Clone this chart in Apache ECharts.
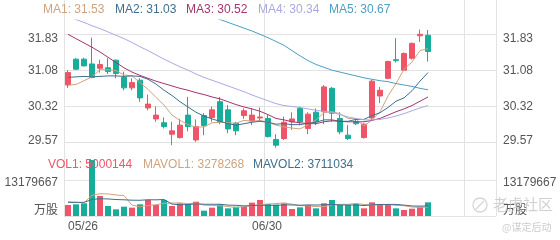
<!DOCTYPE html>
<html><head><meta charset="utf-8">
<script src="https://cdn.jsdelivr.net/npm/echarts@6/dist/echarts.min.js"></script>
<style>html,body{margin:0;padding:0;background:#fff}#c{width:560px;height:240px}</style>
</head><body><div id="c"></div>
<script>
// ---------- data ----------
const dates = ['05/26','05/27','05/30','05/31','06/01','06/02','06/03','06/06','06/07','06/08','06/13','06/14','06/15','06/16','06/17','06/20','06/21','06/22','06/23','06/24','06/27','06/28','06/29','06/30','07/01','07/04','07/05','07/06','07/07','07/08','07/11','07/12','07/13','07/14','07/15','07/18','07/19','07/20','07/21','07/22','07/25','07/26','07/27','07/28','07/29','08/01','08/02','08/03','08/04','08/05','08/08','08/09','08/10','08/11'];
const dateLabels = ['05/26', '06/30'];
// [open, close, low, high]
const candles = [
 [30.77,31.03,30.71,31.08],[31.31,31.10,31.08,31.33],[31.31,31.17,31.16,31.34],[31.21,30.93,30.91,31.76],
 [31.12,31.20,31.03,31.30],[31.13,31.05,31.00,31.33],[31.29,31.01,30.91,31.30],[30.93,30.71,30.66,31.05],
 [30.71,30.82,30.66,30.91],[30.87,30.50,30.42,30.91],[30.29,30.37,30.24,30.57],[30.06,30.14,30.00,30.32],
 [29.98,29.90,29.86,30.09],[29.74,29.81,29.51,30.00],[29.67,29.93,29.65,30.06],[30.14,29.90,29.80,30.52],
 [29.62,29.90,29.58,30.05],[30.13,29.92,29.72,30.18],[30.09,30.25,30.00,30.32],[30.42,30.00,29.95,30.52],
 [30.25,29.85,29.76,30.35],[29.97,29.81,29.72,30.00],[30.13,30.23,30.06,30.28],[30.02,30.14,29.93,30.28],
 [30.08,30.10,30.00,30.30],[30.07,29.69,29.67,30.14],[29.63,29.51,29.46,29.74],[29.65,29.99,29.62,30.11],
 [30.00,30.06,29.83,30.20],[30.28,30.00,29.93,30.32],[29.86,30.16,29.74,30.20],[30.20,30.00,29.93,30.28],
 [30.21,30.73,29.95,30.77],[30.70,30.18,30.00,30.73],[30.07,29.79,29.74,30.20],[29.72,29.65,29.62,29.93],
 [30.00,29.96,29.93,30.07],[29.67,29.95,29.65,29.97],[30.08,30.85,30.02,30.88],[30.54,30.66,30.39,30.73],
 [30.91,31.26,30.89,31.28],[31.30,31.28,31.24,31.75],[31.08,31.43,31.06,31.45],[31.33,31.64,31.30,31.66],
 [31.80,31.83,31.67,31.93],[31.81,31.47,31.26,31.92]
];
const ma1 = [30.77,30.78,30.86,30.94,31.09,31.09,31.07,30.98,30.96,30.82,30.68,30.51,30.35,30.14,30.03,29.94,29.89,29.89,29.98,29.99,29.98,29.97,30.03,30.01,30.03,29.99,29.93,29.89,29.87,29.85,29.94,30.04,30.19,30.21,30.17,30.07,30.06,29.91,30.04,30.21,30.54,30.80,31.10,31.25,31.49,31.53];
const ma2 = [30.93,30.94,30.95,30.94,30.95,30.96,30.96,30.95,30.96,30.95,30.89,30.79,30.66,30.55,30.42,30.31,30.20,30.12,30.06,30.01,29.96,29.93,29.96,29.99,30.01,29.99,29.95,29.96,29.94,29.94,29.97,29.99,30.04,30.04,30.01,30.01,30.05,30.05,30.13,30.19,30.30,30.43,30.50,30.65,30.85,31.03];
const ma3 = [31.83,31.74,31.65,31.56,31.46,31.35,31.24,31.13,31.04,30.97,30.91,30.85,30.80,30.75,30.70,30.66,30.61,30.57,30.52,30.48,30.42,30.36,30.31,30.27,30.22,30.15,30.07,30.04,30.00,29.98,29.96,29.96,30.00,30.02,30.01,30.00,30.00,30.00,30.03,30.07,30.14,30.21,30.27,30.34,30.43,30.52];
const ma4 = [32.20,32.14,32.08,32.01,31.95,31.88,31.81,31.74,31.66,31.57,31.49,31.40,31.31,31.23,31.15,31.08,31.00,30.93,30.87,30.81,30.75,30.69,30.63,30.56,30.50,30.44,30.38,30.34,30.32,30.30,30.27,30.24,30.22,30.20,30.15,30.10,30.07,30.04,30.04,30.05,30.08,30.12,30.17,30.23,30.29,30.34];
const ma5 = ['-','-','-','-','-','-','-','-','-','-','-','-','-','-','-','-',32.32,32.26,32.20,32.14,32.08,32.02,31.96,31.90,31.83,31.76,31.68,31.60,31.49,31.38,31.28,31.20,31.14,31.08,31.04,31.00,30.96,30.92,30.89,30.86,30.84,30.80,30.77,30.74,30.70,30.67];
const volumes = [4030000,4280000,4650000,20500000,7320000,3660000,2440000,3420000,3050000,4280000,5860000,4030000,5860000,3660000,4650000,4390000,5240000,1950000,3050000,4280000,2810000,3420000,3420000,4880000,5860000,4390000,4200000,4650000,2560000,3170000,4030000,2810000,4650000,5860000,4030000,4030000,4390000,2810000,5000000,4390000,4390000,2810000,2200000,2680000,3420000,5000144];
const mavol1 = [5200000,5000000,4800000,7590000,8160000,8080000,7710000,7470000,3980000,3370000,3810000,4130000,4620000,4740000,4810000,4520000,4760000,3980000,3860000,3780000,3470000,3100000,3400000,3760000,4080000,4390000,4550000,4800000,4330000,3790000,3720000,3440000,3440000,4100000,4280000,4280000,4590000,4220000,4050000,4120000,4200000,3880000,3760000,3290000,3100000,3278268];
const mavol2 = [5000000,5000000,5000000,6050000,6330000,6240000,6040000,5930000,5790000,5760000,5950000,5920000,6040000,4360000,4090000,4160000,4440000,4300000,4300000,4300000,3990000,3930000,3690000,3810000,3930000,3930000,3830000,4100000,4050000,3940000,4060000,4000000,4120000,4220000,4040000,4000000,4020000,3830000,4080000,4200000,4240000,4240000,3990000,3670000,3610000,3711034];
const priceTicks = ['29.57', '30.32', '31.08', '31.83'];
const volTicks = ['万股', '13179667'];

// ---------- styling ----------
const FONT = '"Liberation Sans", Arial, "Noto Sans CJK SC", sans-serif';
const RED = '#ef5468', GREEN = '#18ad9a';
const C_MA = ['#cfa37f', '#3e6f8e', '#a3356f', '#a9a9e3', '#4d9fc3'];
const GRID_LINE = '#e3e3e3';
const LABEL = '#555';

const pLow = Number(priceTicks[0]), pHigh = Number(priceTicks[priceTicks.length - 1]);
const pInt = (pHigh - pLow) / (priceTicks.length - 1);
const pMin = pLow - pInt;
const pMax = 32.13;
const volMax = Number(volTicks[1]);

const priceFmt = v => {
  const s = v.toFixed(2);
  if (s === priceTicks[priceTicks.length - 1]) return '{t|' + s + '}';
  if (s === priceTicks[0]) return '{b|' + s + '}';
  return s;
};
const priceRich = { t: { padding: [9, 0, 0, 0] }, b: { padding: [0, 0, 3, 0] } };
const volFmt = v => v === 0 ? '{b|' + volTicks[0] + '}' : '{t|' + v + '}';
const volRich = { t: { padding: [6, 0, 0, 0] }, b: { padding: [0, 0, 10, 0] } };

const lbl = (extra) => Object.assign({ color: LABEL, fontSize: 12, fontFamily: FONT }, extra);
const last = a => a[a.length - 1];

const titles = [
  { text: 'MA1: ' + last(ma1).toFixed(2), left: 43, top: 4, color: C_MA[0] },
  { text: 'MA2: ' + last(ma2).toFixed(2), left: 115, top: 4, color: C_MA[1] },
  { text: 'MA3: ' + last(ma3).toFixed(2), left: 186, top: 4, color: C_MA[2] },
  { text: 'MA4: ' + last(ma4).toFixed(2), left: 258, top: 4, color: C_MA[3] },
  { text: 'MA5: ' + last(ma5).toFixed(2), left: 329, top: 4, color: C_MA[4] },
  { text: 'VOL1: ' + last(volumes), left: 48, top: 159, color: RED },
  { text: 'MAVOL1: ' + last(mavol1), left: 143, top: 159, color: C_MA[0] },
  { text: 'MAVOL2: ' + last(mavol2), left: 253, top: 159, color: C_MA[1] }
].map(t => ({ text: t.text, left: t.left, top: t.top, padding: 0,
  textStyle: { fontSize: 12, fontWeight: 'normal', color: t.color, fontFamily: FONT } }));

const hidden = { axisLine: { show: false }, axisTick: { show: false }, axisLabel: { show: false }, splitLine: { show: false } };

const chart = echarts.init(document.getElementById('c'), null, { renderer: 'canvas' });
chart.setOption({
  animation: false,
  backgroundColor: '#fff',
  title: titles,
  grid: [
    { left: 64, top: 20, width: 432, height: 158.34 },
    { left: 64, top: 180, width: 432, height: 36 },
    { left: 64, top: 0, width: 432, height: 216 }
  ],
  xAxis: [
    Object.assign({ type: 'category', gridIndex: 0, data: dates, boundaryGap: true }, hidden),
    { type: 'category', gridIndex: 1, data: dates, boundaryGap: true,
      axisLine: { show: false }, axisTick: { show: false }, splitLine: { show: false },
      axisLabel: lbl({ interval: (i, v) => dateLabels.includes(v), align: 'left', margin: 5 }) },
    { type: 'category', gridIndex: 2, data: dates, boundaryGap: true,
      axisLine: { show: false }, axisTick: { show: false }, axisLabel: { show: false },
      splitLine: { show: true, interval: (i) => i === 25 || i === 50, lineStyle: { color: GRID_LINE, width: 1 } } }
  ],
  yAxis: [
    { type: 'value', gridIndex: 0, position: 'left', min: pMin, max: pMax, interval: pInt,
      axisLine: { show: false }, axisTick: { show: false },
      axisLabel: lbl({ formatter: priceFmt, rich: priceRich, showMinLabel: false, showMaxLabel: false, margin: 6 }),
      splitLine: { show: true, showMinLine: false, showMaxLine: false, lineStyle: { color: GRID_LINE, width: 1 } } },
    { type: 'value', gridIndex: 0, position: 'right', min: pMin, max: pMax, interval: pInt,
      axisLine: { show: false }, axisTick: { show: false }, splitLine: { show: false },
      axisLabel: lbl({ formatter: priceFmt, rich: priceRich, showMinLabel: false, showMaxLabel: false, margin: 7 }) },
    { type: 'value', gridIndex: 1, position: 'left', min: 0, max: volMax, interval: volMax,
      axisLine: { show: false }, axisTick: { show: false },
      axisLabel: lbl({ formatter: volFmt, rich: volRich, margin: 6 }),
      splitLine: { show: true, lineStyle: { color: GRID_LINE, width: 1 } } },
    { type: 'value', gridIndex: 1, position: 'right', min: 0, max: volMax, interval: volMax,
      axisLine: { show: false }, axisTick: { show: false }, splitLine: { show: false },
      axisLabel: lbl({ formatter: volFmt, rich: volRich, margin: 7 }) },
    { type: 'value', gridIndex: 2, position: 'left', min: 0, max: 1,
      axisLine: { show: true, lineStyle: { color: GRID_LINE, width: 1 } },
      axisTick: { show: false }, axisLabel: { show: false }, splitLine: { show: false } },
    { type: 'value', gridIndex: 2, position: 'right', min: 0, max: 1,
      axisLine: { show: true, lineStyle: { color: GRID_LINE, width: 1 } },
      axisTick: { show: false }, axisLabel: { show: false }, splitLine: { show: false } }
  ],
  series: [
    { type: 'candlestick', xAxisIndex: 0, yAxisIndex: 0, data: candles, barWidth: 6,
      itemStyle: { color: RED, color0: GREEN, borderColor: RED, borderColor0: GREEN, borderWidth: 1 } },
    ...[ma1, ma2, ma3, ma4, ma5].map((d, k) => ({
      type: 'line', xAxisIndex: 0, yAxisIndex: 0, data: d, symbol: 'none', silent: true,
      lineStyle: { color: C_MA[k], width: 1 }, z: 3 })),
    { type: 'bar', xAxisIndex: 1, yAxisIndex: 2, barWidth: 6, clip: false,
      data: volumes.map((v, i) => ({ value: v, itemStyle: { color: candles[i][1] >= candles[i][0] ? RED : GREEN } })) },
    { type: 'line', xAxisIndex: 1, yAxisIndex: 2, data: mavol1, symbol: 'none', lineStyle: { color: C_MA[0], width: 1 }, z: 3 },
    { type: 'line', xAxisIndex: 1, yAxisIndex: 2, data: mavol2, symbol: 'none', lineStyle: { color: C_MA[1], width: 1 }, z: 3 }
  ],
  graphic: [
    { type: 'circle', z: 100, shape: { cx: 480, cy: 205, r: 7 }, style: { fill: 'none', stroke: '#d6d6d6', lineWidth: 1.3 } },
    { type: 'line', z: 100, shape: { x1: 476, y1: 209, x2: 484, y2: 201 }, style: { stroke: '#d6d6d6', lineWidth: 1.3 } },
    { type: 'text', z: 100, left: 493, top: 197, style: { text: '老虎社区', font: '15px "Noto Sans CJK SC"', fill: 'rgba(200,200,200,0.85)' } },
    { type: 'text', z: 100, left: 502, top: 222, style: { text: '@谋定后动', font: '10px "Noto Sans CJK SC"', fill: '#cdcdcd' } }
  ]
});
</script>
</body></html>
